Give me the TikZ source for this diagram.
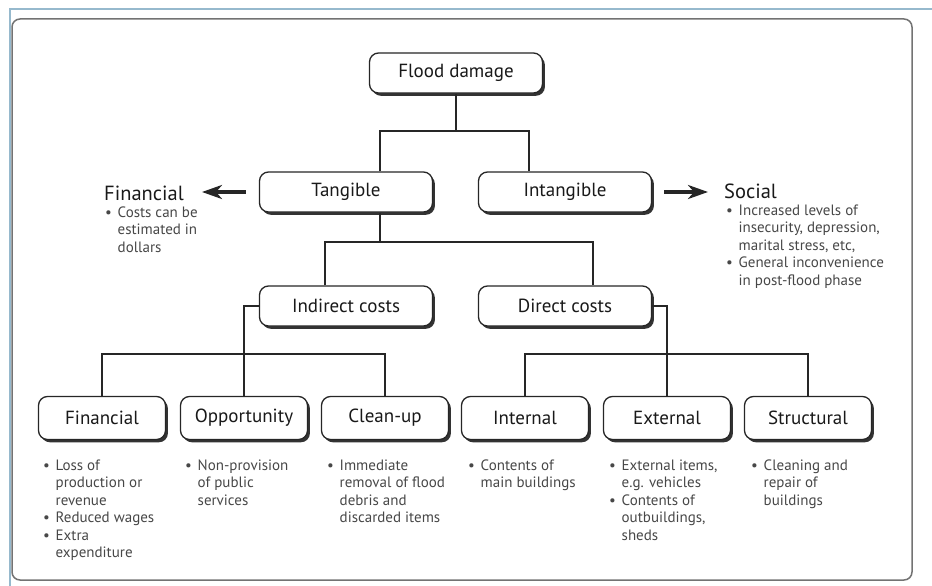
\documentclass[tikz,border=0pt]{standalone}
\usepackage{fontspec}
\setmainfont{PT Sans}
\usetikzlibrary{arrows.meta,shadows}

\definecolor{frameblue}{RGB}{150,185,205}

\tikzset{
  box/.style={draw=black!85, line width=1.3pt, rounded corners=9pt, fill=white,
    minimum height=40pt, text=black!90, font=\fontsize{19}{22}\selectfont,
    drop shadow={shadow xshift=2.4pt, shadow yshift=-2.8pt, opacity=1, fill=black!80}},
  topbox/.style={box, minimum width=173pt},
  subbox/.style={box, minimum width=127pt, minimum height=43pt},
  conn/.style={draw=black!85, line width=1.5pt},
  arr/.style={conn, line width=3.4pt, -{Stealth[length=20pt, width=14pt, inset=6pt]}},
  head/.style={anchor=base west, inner sep=0pt, text=black!90, font=\fontsize{20.5}{24}\selectfont},
  note/.style={anchor=north west, inner sep=0pt, align=left, text=black!72,
    font=\fontsize{15}{17.5}\selectfont},
}
\newcommand{\bul}{\makebox[12.5pt][l]{\textbullet}}
\newcommand{\ind}{\hspace*{12.5pt}}

\begin{document}
\begin{tikzpicture}[x=1pt,y=-1pt]
    \useasboundingbox (0,0) rectangle (932,586);
    % frame
    \draw[frameblue, line width=1.5pt] (10,586) -- (10,9) -- (932,9);
    \draw[black!55, line width=1.5pt, rounded corners=8pt] (12,19) rectangle (912,580);

    % boxes
    \node[topbox] (flood) at (456,73) {Flood damage};
    \node[topbox] (tangible) at (346,192) {Tangible};
    \node[topbox] (intangible) at (565,192) {Intangible};
    \node[topbox] (indirect) at (346,306) {Indirect costs};
    \node[topbox] (direct) at (565,306) {Direct costs};
    \node[subbox] (fin) at (102,418) {Financial};
    \node[subbox] (opp) at (244,418) {Opportunity};
    \node[subbox] (clean) at (385,418) {Clean-up};
    \node[subbox] (internal) at (525,418) {Internal};
    \node[subbox] (external) at (667,418) {External};
    \node[subbox] (structural) at (808,418) {Structural};

    % connectors
    \coordinate (row1) at (0,131);
    \coordinate (row2) at (0,242);
    \coordinate (row3) at (0,354);
    \coordinate (tdrop) at (380,0);
    \coordinate (idrop) at (529,0);
    \coordinate (indrop) at (325,0);
    \coordinate (drdrop) at (593,0);
    \draw[conn] (flood.south) -- (flood.south |- row1);
    \draw[conn] (tangible.north -| tdrop) |- (row1 -| idrop) -- (intangible.north -| idrop);
    \draw[conn] (tangible.south -| tdrop) -- (tdrop |- row2);
    \draw[conn] (indirect.north -| indrop) |- (row2 -| drdrop) -- (direct.north -| drdrop);
    \draw[conn] (indirect.west) -| (opp.north);
    \draw[conn] (direct.east) -| (external.north);
    \draw[conn] (fin.north) |- (row3 -| clean.north) -- (clean.north);
    \draw[conn] (internal.north) |- (row3 -| structural.north) -- (structural.north);

    % side arrows
    \coordinate (finend) at (202,192);
    \coordinate (socend) at (708,192);
    \draw[arr] ([xshift=-13pt]tangible.west) -- (finend);
    \draw[arr] ([xshift=12pt]intangible.east) -- (socend);

    % side notes
    \node[head] (finhead) at (104,200) {Financial};
    \node[note] (finnote) at (105,206.5) {\bul Costs can be\\ \ind estimated in\\ \ind dollars};
    \node[head] (sochead) at (724,198) {Social};
    \node[note] (socnote) at (726,204.5) {\bul Increased levels of\\ \ind insecurity, depression,\\
      \ind marital stress, etc,\\ \bul General inconvenience\\ \ind in post-flood phase};

    % bottom notes
    \node[note] (finlist) at (43,459.5) {\bul Loss of\\ \ind production or\\ \ind revenue\\
      \bul Reduced wages\\ \bul Extra\\ \ind expenditure};
    \node[note] (opplist) at (185,459.5) {\bul Non-provision\\ \ind of public\\ \ind services};
    \node[note] (cleanlist) at (327,459.5) {\bul Immediate\\ \ind removal of flood\\ \ind debris and\\
      \ind discarded items};
    \node[note] (intlist) at (468,459.5) {\bul Contents of\\ \ind main buildings};
    \node[note] (extlist) at (609,459.5) {\bul External items,\\ \ind e.g. vehicles\\ \bul Contents of\\
      \ind outbuildings,\\ \ind sheds};
    \node[note] (strlist) at (751,459.5) {\bul Cleaning and\\ \ind repair of\\ \ind buildings};
\end{tikzpicture}
\end{document}
